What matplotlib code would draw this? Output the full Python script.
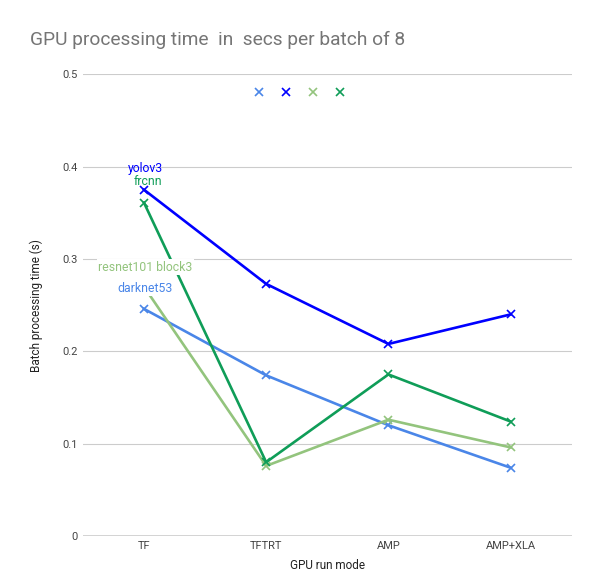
import matplotlib.pyplot as plt
from matplotlib.lines import Line2D

plt.rcParams['font.family'] = ['Roboto', 'DejaVu Sans']

modes = ['TF', 'TFTRT', 'AMP', 'AMP+XLA']
darknet53 = [0.246, 0.174, 0.120, 0.074]
yolov3 = [0.375, 0.273, 0.208, 0.240]
resnet101 = [0.270, 0.076, 0.126, 0.096]
frcnn = [0.361, 0.080, 0.175, 0.124]

series = [
    ('darknet53', darknet53, '#4a86e8'),
    ('yolov3', yolov3, '#0000ff'),
    ('resnet101 block3', resnet101, '#93c47d'),
    ('frcnn', frcnn, '#0f9d58'),
]

fig = plt.figure(figsize=(6, 5.84), dpi=100)
ax = fig.add_axes([0.138, 0.082, 0.815, 0.791])

x = range(len(modes))
for name, vals, col in series:
    ax.plot(x, vals, color=col, lw=1.9, marker='x', ms=6, mew=1.2, zorder=3)

# data labels at the first point
ax.text(0.01, 0.398, 'yolov3', color='#0000ff', ha='center', va='center', fontsize=8.8)
ax.text(0.03, 0.384, 'frcnn', color='#0f9d58', ha='center', va='center', fontsize=8.8)
ax.text(0.01, 0.291, 'resnet101 block3', color='#93c47d', ha='center', va='center', fontsize=8.8,
        bbox=dict(fc='white', ec='none', pad=1), zorder=4)
ax.text(0.01, 0.268, 'darknet53', color='#4a86e8', ha='center', va='center', fontsize=8.8,
        bbox=dict(fc='white', ec='none', pad=1), zorder=4)

handles = [Line2D([], [], color=c, marker='x', ls='none', ms=6, mew=1.2) for _, _, c in series]
ax.legend(handles, [''] * 4, ncol=4, frameon=False, loc='upper center',
          bbox_to_anchor=(0.443, 1.001), handlelength=1, handletextpad=0, columnspacing=0.95)

ax.set_xlim(-0.5, 3.5)
ax.set_ylim(0, 0.5)
ax.set_xticks(list(x))
ax.set_xticklabels(modes)
ax.set_yticks([0, 0.1, 0.2, 0.3, 0.4, 0.5])
ax.set_yticklabels(['0', '0.1', '0.2', '0.3', '0.4', '0.5'])
ax.grid(axis='y', color='#cccccc', lw=0.8)
ax.set_axisbelow(True)
for s in ax.spines.values():
    s.set_visible(False)
ax.axhline(0, color='#333333', lw=1, zorder=2)
ax.tick_params(length=0, colors='#444444', labelsize=8)
ax.set_xlabel('GPU run mode', fontsize=8.5, color='#222222', labelpad=6)
ax.set_ylabel('Batch processing time (s)', fontsize=8.5, color='#222222', labelpad=14)

fig.text(0.05, 0.932, 'GPU processing time  in  secs per batch of 8', fontsize=13.8,
         color='#757575', ha='left', va='center')

fig.savefig('out.png')
